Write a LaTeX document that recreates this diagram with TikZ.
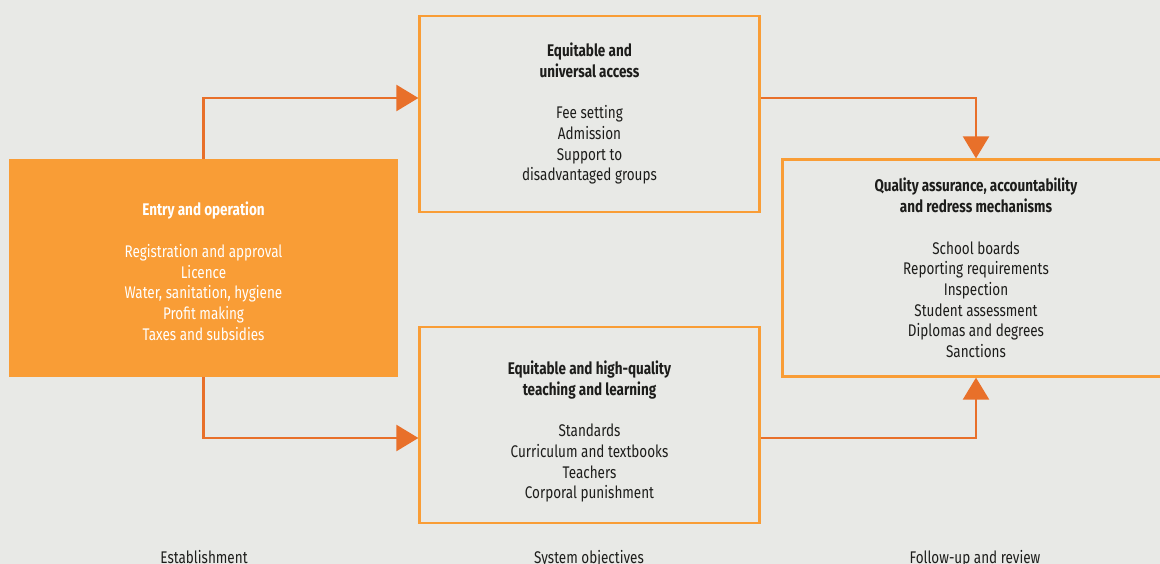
\documentclass[tikz,border=0pt]{standalone}
\usepackage{fontspec}
\setmainfont{Fira Sans}[FakeStretch=0.8]
\usepackage{tikz}
\usetikzlibrary{arrows.meta}
\definecolor{bg}{HTML}{E8E9E6}
\definecolor{boxorange}{HTML}{F99D36}
\definecolor{linkorange}{HTML}{E8702A}
\definecolor{ink}{HTML}{1D1D1B}

\begin{document}
\begin{tikzpicture}[x=0.02cm, y=-0.02cm, font=\fontsize{9.6}{11.8}\selectfont, main node/.style={draw=boxorange, line width=1.3pt, minimum width=6.8cm, minimum height=3.92cm, align=center, text=ink}, fill node/.style={fill=boxorange, minimum width=7.78cm, minimum height=4.36cm, align=center, text=white}, label node/.style={anchor=base, text=ink}, link/.style={draw=linkorange, line width=1.3pt, -{Triangle[length=4.4mm,width=5.2mm]}}]
\fill[bg] (0,0) rectangle (1160,564);
\useasboundingbox (0,0) rectangle (1160,564);
\node[fill node] (1) at (203.5,268) {\rule{0pt}{11.5pt}\textbf{Entry and operation}\\[11.8pt]Registration and approval\\Licence\\Water, sanitation, hygiene\\Profit making\\Taxes and subsidies};
\node[main node] (2) at (589.5,113.7) {\textbf{Equitable and}\\\textbf{universal access}\\[11.8pt]Fee setting\\Admission\\Support to\\disadvantaged groups};
\node[main node] (3) at (589.5,425.3) {\rule{0pt}{15pt}\textbf{Equitable and high-quality}\\\textbf{teaching and learning}\\[11.8pt]Standards\\Curriculum and textbooks\\Teachers\\Corporal punishment};
\node[main node, minimum width=7.74cm, minimum height=4.34cm] (4) at (976,268) {\textbf{Quality assurance, accountability}\\\textbf{and redress mechanisms}\\[11.8pt]School boards\\Reporting requirements\\Inspection\\Student assessment\\Diplomas and degrees\\Sanctions};
\node[label node] (5) at (204,563) {Establishment};
\node[label node] (6) at (589,563) {System objectives};
\node[label node] (7) at (975,563) {Follow-up and review};
\draw[link] (1.north) |- ([yshift=0.314cm]2.west);
\draw[link] (1.south) |- ([yshift=-0.254cm]3.west);
\draw[link] ([yshift=0.314cm]2.east) -| (4.north);
\draw[link] ([yshift=-0.254cm]3.east) -| (4.south);
\end{tikzpicture}
\end{document}
